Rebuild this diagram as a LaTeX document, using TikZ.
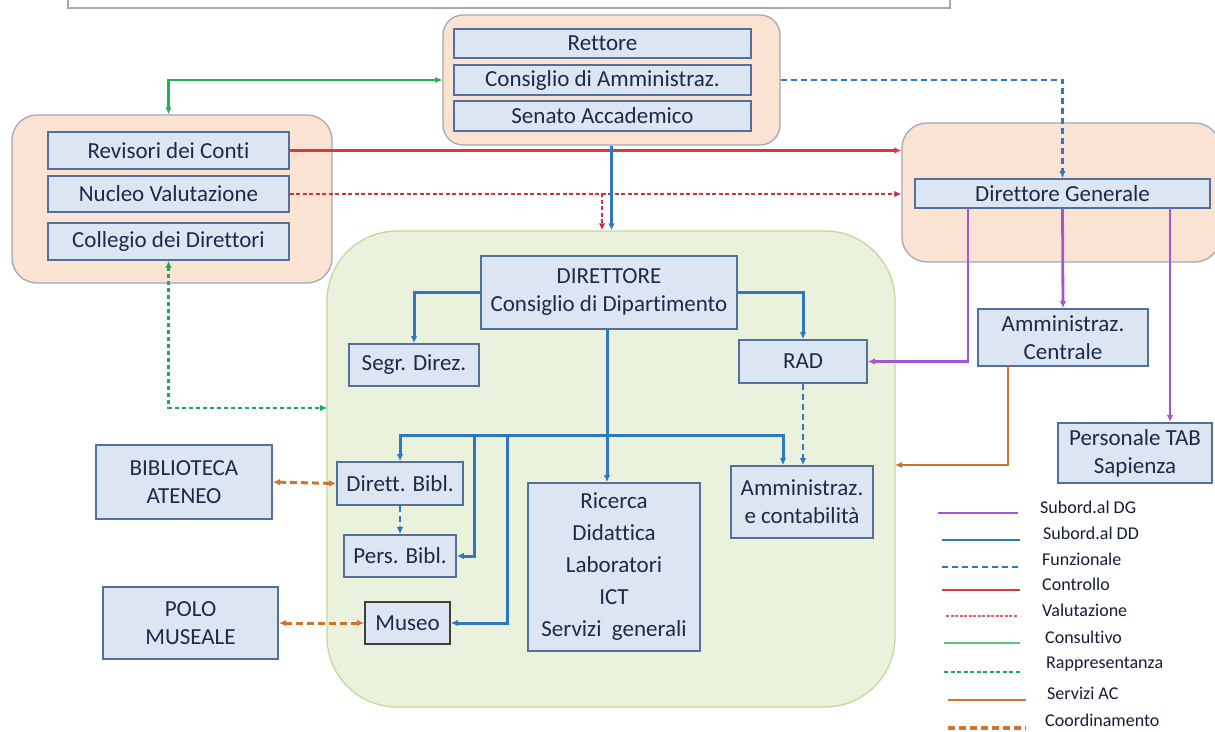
\documentclass[tikz,border=0pt]{standalone}
\usepackage{fontspec}
\setmainfont{Carlito}[Ligatures=NoCommon]
\usetikzlibrary{arrows.meta,calc}
\definecolor{peach}{HTML}{FBE3D4}
\definecolor{peachline}{HTML}{A3A9B3}
\definecolor{boxfill}{HTML}{DCE6F2}
\definecolor{boxline}{HTML}{52709A}
\definecolor{greenfill}{HTML}{EAF1DD}
\definecolor{greenline}{HTML}{C4D89E}
\definecolor{txt}{HTML}{1C2A4A}
\definecolor{cpurple}{HTML}{A257D2}
\definecolor{cblue}{HTML}{2F77BE}
\definecolor{cred}{HTML}{D63A3C}
\definecolor{credd}{HTML}{C8343A}
\definecolor{cgreen}{HTML}{22B04E}
\definecolor{cgreend}{HTML}{1CA860}
\definecolor{corange}{HTML}{CF7332}
\tikzset{
  box/.style={draw=boxline, fill=boxfill, line width=1.8pt, text=txt, align=center, inner sep=0pt, font=\fontsize{23}{28}\selectfont},
  grp/.style={draw=peachline, fill=peach, line width=1.3pt, inner sep=0pt},
  tip/.style={-{Latex[length=7pt,width=6.5pt]}},
  tips/.style={{Latex[length=7pt,width=6.5pt]}-{Latex[length=7pt,width=6.5pt]}},
  subdg/.style={cpurple, line width=2.8pt, tip},
  subdd/.style={cblue, line width=3pt, tip},
  funz/.style={cblue, line width=2.6pt, dash pattern=on 6pt off 4pt, tip},
  ctrl/.style={cred, line width=2.6pt, tip},
  valu/.style={credd, line width=2.4pt, dash pattern=on 4pt off 2.5pt, tip},
  cons/.style={cgreen, line width=2.8pt, tips},
  rapp/.style={cgreend, line width=2.6pt, dash pattern=on 4pt off 3pt, tips},
  serv/.style={corange, line width=2.6pt, tip},
  coord/.style={corange, line width=3pt, dash pattern=on 7pt off 4pt, tips},
  legtxt/.style={anchor=west, text=txt!70!black, inner sep=0pt, font=\fontsize{18}{20}\selectfont}
}
\begin{document}
\begin{tikzpicture}[x=1pt,y=-1pt]
\clip (0,0) rectangle (1215,731);
\fill[white] (0,0) rectangle (1215,731);
% title box (cut off)
\node[draw=peachline, fill=white, line width=1.8pt, minimum width=882, minimum height=40, inner sep=0pt] (title) at (509,-12) {};
% group containers
\node[grp, rounded corners=20pt, minimum width=337, minimum height=130] (tg) at (611.5,80) {};
\node[grp, rounded corners=25pt, minimum width=320, minimum height=168] (lg) at (172,199) {};
\node[grp, rounded corners=25pt, minimum width=318, minimum height=139] (rg) at (1061,192.5) {};
\node[draw=greenline, fill=greenfill, line width=1.3pt, rounded corners=70pt, minimum width=568, minimum height=476, inner sep=0pt] (gg) at (611,469) {};
% top group
\node[box, minimum width=297, minimum height=29] (rett) at (602.5,43.5) {Rettore};
\node[box, minimum width=297, minimum height=30] (cda) at (602.5,80) {Consiglio di Amministraz.};
\node[box, minimum width=297, minimum height=30] (sen) at (602.5,116) {Senato Accademico};
% left group
\node[box, minimum width=241, minimum height=37] (rev) at (168.5,150.5) {Revisori dei Conti};
\node[box, minimum width=241, minimum height=36] (nuc) at (168.5,194) {Nucleo Valutazione};
\node[box, minimum width=241, minimum height=37] (col) at (168.5,241.5) {Collegio dei Direttori};
% right group
\node[box, minimum width=295, minimum height=29] (dg) at (1062.5,193.5) {Direttore Generale};
\node[box, minimum width=170, minimum height=57] (ac) at (1063,337.5) {Amministraz.\\Centrale};
\node[box, minimum width=154, minimum height=60] (tab) at (1135,453) {Personale TAB\\Sapienza};
% department
\node[box, minimum width=256, minimum height=73] (dir) at (609,292.5) {DIRETTORE\\Consiglio di Dipartimento};
\node[box, minimum width=130, minimum height=42] (segr) at (414,365) {Segr. Direz.};
\node[box, minimum width=128, minimum height=43] (rad) at (803,361.5) {RAD};
\node[box, minimum width=126, minimum height=43] (db) at (400,483.5) {Dirett. Bibl.};
\node[box, minimum width=112, minimum height=42] (pb) at (400,556) {Pers. Bibl.};
\node[box, draw=black!75, minimum width=85, minimum height=42] (mus) at (407.5,623) {Museo};
\node[box, minimum width=172, minimum height=168, font=\fontsize{23}{32}\selectfont] (ric) at (614,567) {Ricerca\\Didattica\\Laboratori\\ICT\\Servizi~ generali};
\node[box, minimum width=142, minimum height=72] (amm) at (802,502) {Amministraz.\\e contabilità};
% outside
\node[box, minimum width=176, minimum height=74] (bib) at (184,482) {BIBLIOTECA\\ATENEO};
\node[box, minimum width=175, minimum height=72] (polo) at (190.5,623) {POLO\\MUSEALE};
% helper coordinates
\coordinate (vb) at (602,193);
\coordinate (bus) at (607,435);
\coordinate (bl) at (474,435);
\coordinate (bm) at (507,435);
\coordinate (br) at (783,435);
\coordinate (pr) at (968,208);
\coordinate (pt) at (1170,208);
\coordinate (os) at (1008,366);
\coordinate (oy) at (895,465);
\coordinate (gy) at (327,408);
% connectors
\draw[cons] (tg.west |- cda) -| (lg.north -| col);
\draw[ctrl] (rev.east) -- (rev.east -| rg.west);
\draw[valu] (nuc.east) -- (nuc.east -| rg.west);
\draw[valu] (vb) -- (vb |- gg.north);
\draw[subdd] (tg.south) -- (tg.south |- gg.north);
\draw[funz] (tg.east |- cda) -| (dg.north);
\draw[subdg] (pr) |- (rad.east);
\draw[subdg] (dg.south) -- (ac.north);
\draw[subdg] (pt) -- (pt |- tab.north);
\draw[serv] (os) |- (oy);
\draw[rapp] (col.south) |- (gy);
\draw[subdd] (dir.west) -| (segr.north);
\draw[subdd] (dir.east) -| (rad.north);
\draw[subdd] (dir.south -| bus) -- (bus |- ric.north);
\draw[subdd] (bus) -| (db.north);
\draw[subdd] (bus) -| (br |- amm.north);
\draw[subdd] (bl) |- (pb.east);
\draw[subdd] (bm) |- (mus.east);
\draw[funz] (db.south) -- (pb.north);
\draw[funz] (rad.south) -- (rad.south |- amm.north);
\draw[coord] (bib.east) -- (db.west);
\draw[coord] (polo.east) -- (mus.west);
% legend
\draw[cpurple, line width=2.6pt] (938,513) -- (1018,513);
\draw[cblue, line width=2.6pt] (942,540) -- (1020,540);
\draw[cblue, line width=2.2pt, dash pattern=on 6pt off 4pt] (942,567) -- (1020,567);
\draw[cred, line width=2.2pt] (942,590) -- (1020,590);
\draw[cred!80, line width=2.6pt, dash pattern=on 3pt off 1.5pt] (946,616) -- (1018,616);
\draw[cgreen!75, line width=2.6pt] (944,643) -- (1020,643);
\draw[cgreend, line width=2pt, dash pattern=on 4pt off 2.5pt] (944,672) -- (1020,672);
\draw[corange, line width=2.8pt] (948,700) -- (1026,700);
\draw[corange, line width=3.2pt, dash pattern=on 7pt off 4pt] (948,728) -- (1026,728);
\node[legtxt] (t1) at (1040,507) {Subord.al DG};
\node[legtxt] (t2) at (1043,533) {Subord.al DD};
\node[legtxt] (t3) at (1042,559) {Funzionale};
\node[legtxt] (t4) at (1042,584) {Controllo};
\node[legtxt] (t5) at (1042,610) {Valutazione};
\node[legtxt] (t6) at (1045,637) {Consultivo};
\node[legtxt] (t7) at (1046,664) {Rappresentanza};
\node[legtxt] (t8) at (1047,693) {Servizi AC};
\node[legtxt] (t9) at (1045,720) {Coordinamento};
\end{tikzpicture}
\end{document}
